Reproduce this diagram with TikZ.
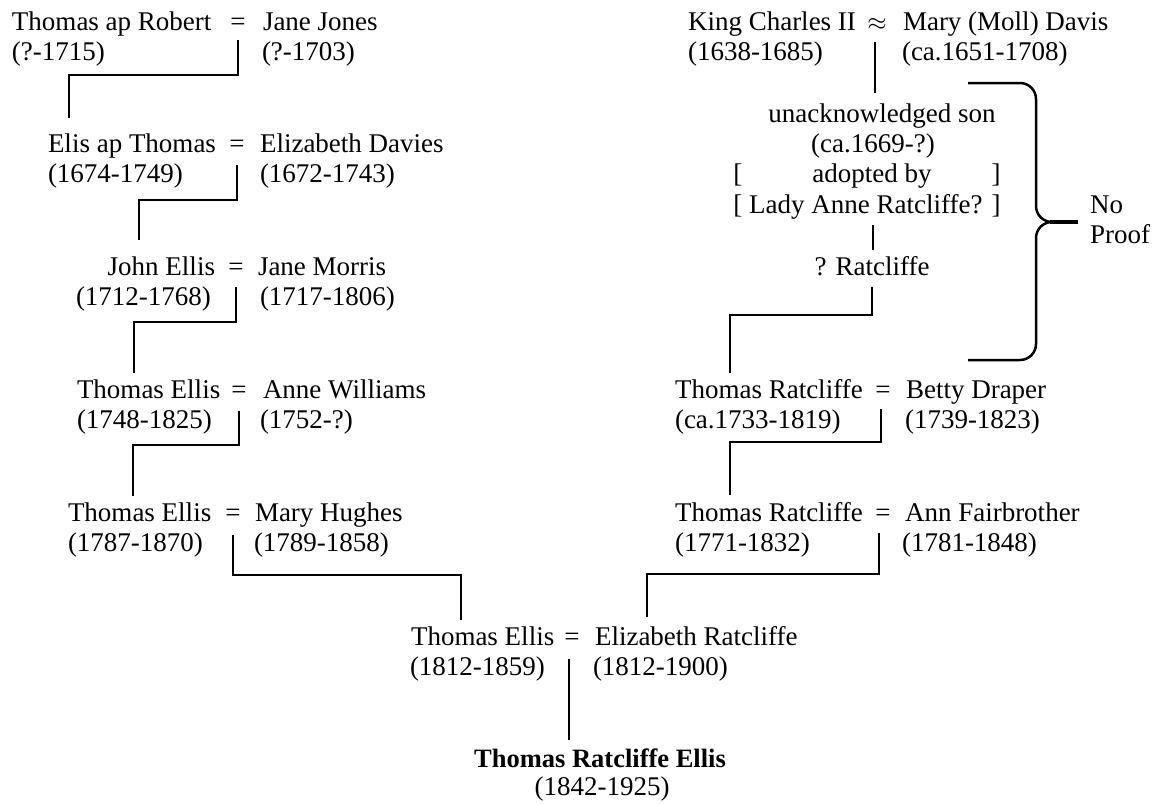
\documentclass[tikz,border=0pt]{standalone}
\usepackage{fontspec}
\setmainfont{Liberation Serif}
\begin{document}
\begin{tikzpicture}[x=1pt,y=-1pt,
  every node/.style={inner sep=0pt, outer sep=0pt, font=\fontsize{27pt}{30pt}\selectfont},
  lt/.style={anchor=base west},
  rt/.style={anchor=base east},
  ct/.style={anchor=base},
  conn/.style={line width=2.5pt, line join=miter},
  brace/.style={line width=2.5pt, rounded corners=16pt}]
\useasboundingbox (0,0) rectangle (1164,803);
% ---------- left line ----------
\node[lt] (a1) at (12,30) {Thomas ap Robert};
\node[ct] (ae1) at (238,30) {=};
\node[lt] (b1) at (263,30) {Jane Jones};
\node[lt] (a1d) at (12,60) {(?-1715)};
\node[lt] (b1d) at (262,60) {(?-1703)};

\node[lt] (a2) at (48,152) {Elis ap Thomas};
\node[ct] (ae2) at (237,152) {=};
\node[lt] (b2) at (260,152) {Elizabeth Davies};
\node[lt] (a2d) at (48,182) {(1674-1749)};
\node[lt] (b2d) at (260,182) {(1672-1743)};

\node[rt] (a3) at (215,275) {John Ellis};
\node[ct] (ae3) at (236,275) {=};
\node[lt] (b3) at (258,275) {Jane Morris};
\node[lt] (a3d) at (76,305) {(1712-1768)};
\node[lt] (b3d) at (260,305) {(1717-1806)};

\node[lt] (a4) at (77,398) {Thomas Ellis};
\node[ct] (ae4) at (239,398) {=};
\node[lt] (b4) at (263,398) {Anne Williams};
\node[lt] (a4d) at (77,428) {(1748-1825)};
\node[lt] (b4d) at (260,428) {(1752-?)};

\node[lt] (a5) at (68,521) {Thomas Ellis};
\node[ct] (ae5) at (233,521) {=};
\node[lt] (b5) at (255,521) {Mary Hughes};
\node[lt] (a5d) at (68,551) {(1787-1870)};
\node[lt] (b5d) at (254,551) {(1789-1858)};
% ---------- right line ----------
\node[lt] (k1) at (688,30) {King Charles II};
\node[ct] (ke1) at (877,30) {$\approx$};
\node[lt] (m1) at (903,30) {Mary (Moll) Davis};
\node[lt] (k1d) at (688,60) {(1638-1685)};
\node[lt] (m1d) at (902,60) {(ca.1651-1708)};

\node[ct] (u1) at (882,122) {unacknowledged son};
\node[ct] (u2) at (873,152) {(ca.1669-?)};
\node[ct] (u4) at (867,213) {[ Lady Anne Ratcliffe? ]};
\node[ct] (u3) at (872,182) {adopted by};
\node[lt] (ub1) at (u4.west |- 0,182) {[};
\node[anchor=base east] (ub2) at (u4.east |- 0,182) {]};
\node[ct] (r1) at (872,275) {? Ratcliffe};

\node[lt] (t1) at (675,398) {Thomas Ratcliffe};
\node[ct] (te1) at (883,398) {=};
\node[lt] (w1) at (906,398) {Betty Draper};
\node[lt] (t1d) at (675,428) {(ca.1733-1819)};
\node[lt] (w1d) at (905,428) {(1739-1823)};

\node[lt] (t2) at (675,521) {Thomas Ratcliffe};
\node[ct] (te2) at (883,521) {=};
\node[lt] (w2) at (905,521) {Ann Fairbrother};
\node[lt] (t2d) at (675,551) {(1771-1832)};
\node[lt] (w2d) at (902,551) {(1781-1848)};
% ---------- bottom ----------
\node[lt] (f1) at (411,645) {Thomas Ellis};
\node[ct] (fe) at (572,645) {=};
\node[lt] (g1) at (595,645) {Elizabeth Ratcliffe};
\node[lt] (f1d) at (410,675) {(1812-1859)};
\node[lt] (g1d) at (593,675) {(1812-1900)};
\node[ct, font=\fontsize{26.5pt}{30pt}\selectfont\bfseries] (ch) at (600,767) {Thomas Ratcliffe Ellis};
\node[ct] (chd) at (602,795) {(1842-1925)};

\node[lt] (np1) at (1090,213) {No};
\node[lt] (np2) at (1090,243) {Proof};
% ---------- connectors ----------
\draw[conn] ([shift={(0,10)}]ae1.base) -- ([shift={(0,45)}]ae1.base) -| ([shift={(21,-34)}]a2.base west);
\draw[conn] ([shift={(0,13)}]ae2.base) -- ([shift={(0,48)}]ae2.base) -| ([shift={(-76,-35)}]a3.base east);
\draw[conn] ([shift={(0,12)}]ae3.base) -- ([shift={(0,47)}]ae3.base) -| ([shift={(57,-25)}]a4.base west);
\draw[conn] ([shift={(0,13)}]ae4.base) -- ([shift={(0,47)}]ae4.base) -| ([shift={(65,-25)}]a5.base west);
\draw[conn] ([shift={(0,14)}]ae5.base) -- ([shift={(0,54)}]ae5.base) -| ([shift={(50,-25)}]f1.base west);

\draw[conn] ([shift={(-2,12)}]ke1.base) -- ([shift={(-2,63)}]ke1.base);
\draw[conn] ([shift={(6,12)}]u4.base) -- ([shift={(6,37)}]u4.base);
\draw[conn] ([shift={(0,12)}]r1.base) -- ([shift={(0,40)}]r1.base) -| ([shift={(55,-25)}]t1.base west);
\draw[conn] ([shift={(-2,11)}]te1.base) -- ([shift={(-2,44)}]te1.base) -| ([shift={(55,-26)}]t2.base west);
\draw[conn] ([shift={(-4,12)}]te2.base) -- ([shift={(-4,53)}]te2.base) -| ([shift={(52,-28)}]g1.base west);
\draw[conn] ([shift={(-3,14)}]fe.base) -- ([shift={(-3,95)}]fe.base);
% ---------- brace ----------
\draw[brace] (968,83) -- (1036,83) -- (1036,222) -- (1058,222);
\draw[brace] (1058,222) -- (1036,222) -- (1036,360) -- (968,360);
\draw[line width=4pt] (1050,222) -- (1078,222);
\end{tikzpicture}
\end{document}
